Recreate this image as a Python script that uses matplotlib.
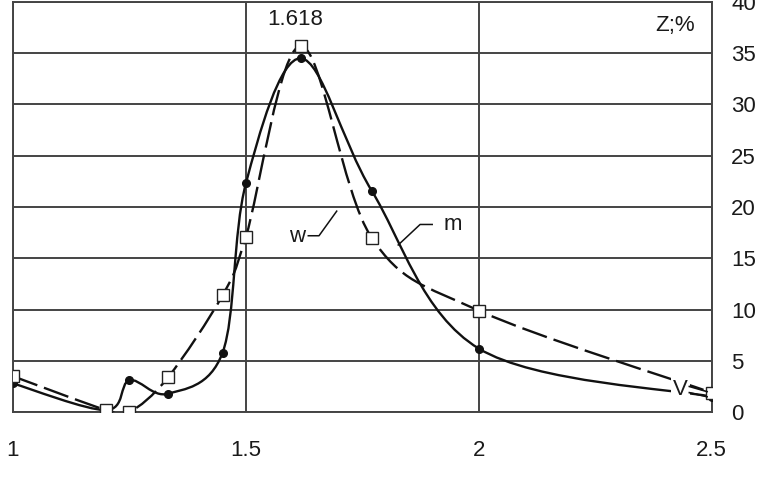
import numpy as np
import matplotlib.pyplot as plt
from matplotlib.path import Path
from matplotlib.patches import PathPatch

plt.rcParams['font.family'] = ['Liberation Sans', 'DejaVu Sans']

# data
x = [1.0, 1.2, 1.25, 1.333, 1.45, 1.5, 1.618, 1.77, 2.0, 2.5]
m = [2.8, 0.2, 3.1, 1.8, 5.8, 22.3, 34.5, 21.6, 6.2, 1.5]
w = [3.5, 0.2, 0.0, 3.4, 11.4, 17.1, 35.7, 17.0, 9.9, 1.9]
xticks = [1, 1.5, 2, 2.5]
xticklabels = ['1', '1.5', '2', '2.5']
yticks = [0, 5, 10, 15, 20, 25, 30, 35, 40]


def smooth_path(xs, ys):
    """catmull-rom through the points, as bezier segments"""
    p = np.column_stack([xs, ys]).astype(float)
    pts = np.vstack([p[0], p, p[-1]])
    verts = [p[0]]
    codes = [Path.MOVETO]
    for i in range(1, len(pts) - 2):
        p0, p1, p2, p3 = pts[i - 1], pts[i], pts[i + 1], pts[i + 2]
        verts += [p1 + (p2 - p0) / 6, p2 - (p3 - p1) / 6, p2]
        codes += [Path.CURVE4] * 3
    return Path(verts, codes)


fig = plt.figure(figsize=(7.62, 4.86), dpi=100)
ax = fig.add_axes([0.017, 0.152, 0.917, 0.844])
ax.set_xlim(1, 2.5)
ax.set_ylim(0, 40)

ax.add_patch(PathPatch(smooth_path(x, m), fill=False, lw=1.7, ec='#111111', zorder=3))
ax.add_patch(PathPatch(smooth_path(x, w), fill=False, lw=1.7, ec='#111111',
                       ls=(0, (11, 3)), zorder=3))
ax.plot(x, m, 'o', ms=5.5, color='#111111', zorder=4)
ax.plot(x, w, 's', ms=8, mfc='white', mec='#222222', mew=1, zorder=5)

ax.set_xticks(xticks)
ax.set_xticklabels(xticklabels)
ax.set_yticks(yticks)
ax.yaxis.tick_right()
ax.tick_params(length=0, labelsize=16, colors='#1a1a1a')
ax.tick_params(axis='x', pad=20)
ax.tick_params(axis='y', pad=14)
ax.grid(True, color='#444444', lw=1.4)
for s in ax.spines.values():
    s.set_color('#444444')
    s.set_linewidth(1.4)

ax.text(1.606, 38.3, '1.618', fontsize=16, ha='center', va='center', color='#1a1a1a')
ax.text(2.464, 37.7, 'Z;%', fontsize=16, ha='right', va='center', color='#1a1a1a')

# V label breaks the two curves, short leaders run on to the last points
ax.text(2.433, 2.2, 'V', fontsize=16, ha='center', va='center', color='#1a1a1a',
        zorder=6, bbox=dict(fc='white', ec='none', pad=1.5))
ax.plot([2.452, 2.49], [2.5, 2.0], color='#111111', lw=1.2, zorder=7)
ax.plot([2.452, 2.49], [1.9, 1.5], color='#111111', lw=1.2, zorder=7)

# leader lines for the series names
ax.text(1.628, 17.1, 'w', fontsize=16, ha='right', va='center', color='#1a1a1a')
ax.plot([1.634, 1.657, 1.695], [17.2, 17.2, 19.6], color='#111111', lw=1.1)
ax.text(1.925, 18.3, 'm', fontsize=16, ha='left', va='center', color='#1a1a1a')
ax.plot([1.900, 1.874, 1.827], [18.3, 18.3, 16.3], color='#111111', lw=1.1)

fig.savefig('out.png', dpi=100)
